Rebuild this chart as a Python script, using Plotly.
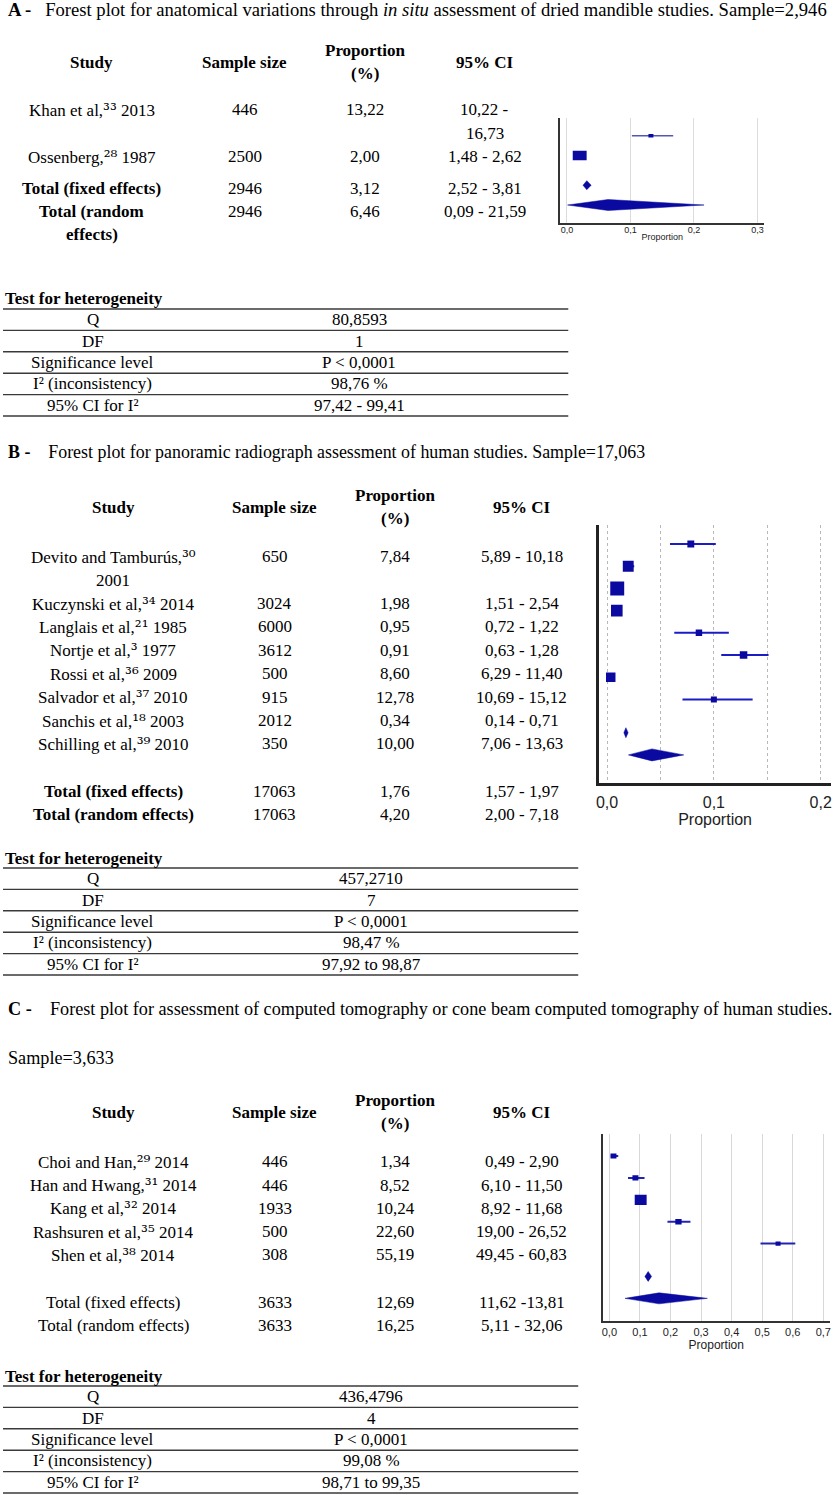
import plotly.graph_objects as go

W, H = 835, 1495
SERIF = "Liberation Serif, Times New Roman, serif"
SANS = "Liberation Sans, Arial, sans-serif"

# ---------------- data: panel A (dried mandibles, in situ) ----------------
A_STUDY = ["Khan et al", "Ossenberg"]
A_REF = [33, 28]
A_YEAR = [2013, 1987]
A_N = [446, 2500]
A_PROP = [13.22, 2.00]
A_LO = [10.22, 1.48]
A_HI = [16.73, 2.62]
A_TOT_N = [2946, 2946]
A_TOT_PROP = [3.12, 6.46]
A_TOT_LO = [2.52, 0.09]
A_TOT_HI = [3.81, 21.59]
A_Q = 80.8593
A_DF = 1
A_I2 = 98.76
A_I2_CI = [97.42, 99.41]

# ---------------- data: panel B (panoramic radiographs) ----------------
B_STUDY = ["Devito and Tamburús", "Kuczynski et al", "Langlais et al", "Nortje et al",
           "Rossi et al", "Salvador et al", "Sanchis et al", "Schilling et al"]
B_REF = [30, 34, 21, 3, 36, 37, 18, 39]
B_YEAR = [2001, 2014, 1985, 1977, 2009, 2010, 2003, 2010]
B_N = [650, 3024, 6000, 3612, 500, 915, 2012, 350]
B_PROP = [7.84, 1.98, 0.95, 0.91, 8.60, 12.78, 0.34, 10.00]
B_LO = [5.89, 1.51, 0.72, 0.63, 6.29, 10.69, 0.14, 7.06]
B_HI = [10.18, 2.54, 1.22, 1.28, 11.40, 15.12, 0.71, 13.63]
B_TOT_N = [17063, 17063]
B_TOT_PROP = [1.76, 4.20]
B_TOT_LO = [1.57, 2.00]
B_TOT_HI = [1.97, 7.18]
B_Q = 457.2710
B_DF = 7
B_I2 = 98.47
B_I2_CI = [97.92, 98.87]

# ---------------- data: panel C (CT / CBCT) ----------------
C_STUDY = ["Choi and Han", "Han and Hwang", "Kang et al", "Rashsuren et al", "Shen et al"]
C_REF = [29, 31, 32, 35, 38]
C_YEAR = [2014, 2014, 2014, 2014, 2014]
C_N = [446, 446, 1933, 500, 308]
C_PROP = [1.34, 8.52, 10.24, 22.60, 55.19]
C_LO = [0.49, 6.10, 8.92, 19.00, 49.45]
C_HI = [2.90, 11.50, 11.68, 26.52, 60.83]
C_TOT_N = [3633, 3633]
C_TOT_PROP = [12.69, 16.25]
C_TOT_LO = [11.62, 5.11]
C_TOT_HI = [13.81, 32.06]
C_Q = 436.4796
C_DF = 4
C_I2 = 99.08
C_I2_CI = [98.71, 99.35]

P_THRESHOLD = 0.0001
TOTAL_LABELS = ["Total (fixed effects)", "Total (random effects)"]
HET_LABELS = ["Q", "DF", "Significance level", "I² (inconsistency)", "95% CI for I²"]
TICKS = {"A": [0, 0.1, 0.2, 0.3], "B": [0, 0.1, 0.2], "C": [0, 0.1, 0.2, 0.3, 0.4, 0.5, 0.6, 0.7]}

# ---------------- helpers ----------------
ann, shapes = [], []
BODY = 17
SUP = str.maketrans("0123456789", "⁰¹²³⁴⁵⁶⁷⁸⁹")


def fmt(v, d=2):
    return f"{v:.{d}f}".replace(".", ",")


def sup(v):
    return f"<span style=\"font-family:'DejaVu Serif'\">{str(v).translate(SUP)}</span>"


def px(x):
    return x / W


def py(y):
    return 1 - y / H


def txt(x, y, s, size=BODY, anchor="center", family=SERIF, color="black"):
    ann.append(dict(x=px(x), y=py(y), xref="paper", yref="paper", text=s, showarrow=False,
                    xanchor=anchor, yanchor="middle", borderpad=0,
                    font=dict(family=family, size=size, color=color)))


def hline(x0, x1, y, color="#3a3a3a", width=1.4):
    shapes.append(dict(type="line", xref="paper", yref="paper", x0=px(x0), x1=px(x1),
                       y0=py(y), y1=py(y), line=dict(color=color, width=width)))


def wrap(tokens, maxc):
    lines, cur, curlen = [], [], 0
    for t, l in tokens:
        add = l + (1 if cur else 0)
        if cur and curlen + add > maxc:
            lines.append(" ".join(cur))
            cur, curlen = [t], l
        else:
            cur.append(t)
            curlen += add
    if cur:
        lines.append(" ".join(cur))
    return lines


def study_tokens(name, ref, year):
    words = name.split(" ")
    toks = [(w, len(w)) for w in words[:-1]]
    toks.append((f"{words[-1]},{sup(ref)}", len(words[-1]) + 1))
    toks.append((str(year), 4))
    return toks


def plain_tokens(s):
    return [(w, len(w)) for w in s.split(" ")]


def table(cfg, study, ref, year, n, prop, lo, hi, tn, tp, tlo, thi):
    yh = cfg["y_head"]
    txt(cfg["x_study"], yh, "<b>Study</b>")
    txt(cfg["x_n"], yh, "<b>Sample size</b>")
    txt(cfg["x_p"], yh - 11.7, "<b>Proportion</b>")
    txt(cfg["x_p"], yh + 11.7, "<b>(%)</b>")
    txt(cfg["x_ci"], yh, "<b>95% CI</b>")
    y, pitch = cfg["y_row0"], cfg["pitch"]

    def row(lab_lines, nval, pval, ci_lines):
        cells = [(cfg["x_study"], lab_lines), (cfg["x_n"], [nval]), (cfg["x_p"], [pval]),
                 (cfg["x_ci"], ci_lines)]
        for x, lines in cells:
            for k, l in enumerate(lines):
                txt(x, y + k * pitch, l)
        return max(len(c[1]) for c in cells)

    for i in range(len(study)):
        labs = wrap(study_tokens(study[i], ref[i], year[i]), cfg["wrap_study"])
        cis = wrap(plain_tokens(f"{fmt(lo[i])} - {fmt(hi[i])}"), cfg["wrap_ci"])
        y += row(labs, str(n[i]), fmt(prop[i]), cis) * pitch
    y += cfg["tot_gap"]
    for j in range(2):
        labs = wrap(plain_tokens(TOTAL_LABELS[j]), cfg["wrap_study"])
        if cfg["tot_bold"]:
            labs = [f"<b>{l}</b>" for l in labs]
        cis = wrap(plain_tokens(f"{fmt(tlo[j])}{cfg['tot_sep'][j]}{fmt(thi[j])}"), cfg["wrap_ci"])
        y += row(labs, str(tn[j]), fmt(tp[j]), cis) * pitch


def het(cfg, q, df, i2, i2ci):
    T = cfg["y_title"]
    txt(1, T, "<b>Test for heterogeneity</b>", anchor="left")
    top, pitch = T + 10, 21.4
    vals = [fmt(q, 4), str(df), f"P &lt; {fmt(P_THRESHOLD, 4)}", f"{fmt(i2)} %",
            f"{fmt(i2ci[0])}{cfg['ci_join']}{fmt(i2ci[1])}"]
    for i in range(5):
        yc = top + (i + 0.5) * pitch
        txt(cfg["x_l"], yc, HET_LABELS[i])
        txt(cfg["x_r"], yc, vals[i])
    for i in range(6):
        hline(0, cfg["x_end"], top + i * pitch)


fig = go.Figure()


def forest(k, key, cfg, prop, lo, hi, n, tp, tlo, thi):
    xa, ya = ("x", "y") if k == 1 else (f"x{k}", f"y{k}")
    xl, yl = ("xaxis", "yaxis") if k == 1 else (f"xaxis{k}", f"yaxis{k}")
    m = len(prop)
    rows = list(range(m))
    trows = [m + 0.5, m + 1.5]
    ppu, rp = cfg["ppu"], cfg["row_px"]
    # CI lines
    cx, cy = [], []
    for i in rows:
        cx += [lo[i] / 100, hi[i] / 100, None]
        cy += [i, i, None]
    fig.add_trace(go.Scatter(x=cx, y=cy, xaxis=xa, yaxis=ya, mode="lines",
                             line=dict(color=cfg["ci_color"], width=cfg["ci_width"]),
                             hoverinfo="skip", showlegend=False))
    # weighted boxes
    bx, by = [], []
    for i in rows:
        w = cfg["box_a"] + cfg["box_b"] * n[i] ** 0.5
        h = w * cfg["box_aspect"]
        hw, hh = w / 2 / ppu, h / 2 / rp
        e = prop[i] / 100
        bx += [e - hw, e + hw, e + hw, e - hw, e - hw, None]
        by += [i - hh, i - hh, i + hh, i + hh, i - hh, None]
    fig.add_trace(go.Scatter(x=bx, y=by, xaxis=xa, yaxis=ya, mode="lines", fill="toself",
                             fillcolor="#0a0aa0", line=dict(width=0, color="#0a0aa0"),
                             hoverinfo="skip", showlegend=False))
    # pooled diamonds
    dx, dy = [], []
    for j, r in enumerate(trows):
        hh = cfg["dia_h"][j] / 2 / rp
        dx += [tlo[j] / 100, tp[j] / 100, thi[j] / 100, tp[j] / 100, tlo[j] / 100, None]
        dy += [r, r - hh, r, r + hh, r, None]
    fig.add_trace(go.Scatter(x=dx, y=dy, xaxis=xa, yaxis=ya, mode="lines", fill="toself",
                             fillcolor="#0a0aa0", line=dict(width=0.5, color="#0a0aa0"),
                             hoverinfo="skip", showlegend=False))
    x0, x1 = cfg["dom_x"]
    y0, y1 = cfg["dom_y"]
    xr = [(x0 - cfg["zero_px"]) / ppu, (x1 - cfg["zero_px"]) / ppu]
    yr = [(y1 - cfg["row0_px"]) / rp, (y0 - cfg["row0_px"]) / rp]
    xaxis = dict(domain=[px(x0), px(x1)], range=xr, anchor=ya, showline=True,
                 linecolor=cfg["axis_color"], linewidth=cfg["axis_w"], zeroline=False,
                 tickvals=TICKS[key], tickformat=".1f", ticks="",
                 ticklabelstandoff=cfg["lab_off"],
                 tickfont=dict(family=SANS, size=cfg["tick_size"], color="#222"),
                 showgrid=True, gridcolor=cfg["grid_color"], griddash=cfg["grid_dash"], gridwidth=1,
                 title=dict(text="Proportion", standoff=cfg["title_off"],
                            font=dict(family=SANS, size=cfg["title_size"], color="#222")),
                 fixedrange=True)
    if cfg.get("minor"):
        xaxis["minor"] = dict(tickvals=cfg["minor"], showgrid=True, gridcolor=cfg["grid_color"],
                              griddash=cfg["grid_dash"], ticks="")
    yaxis = dict(domain=[py(y1), py(y0)], range=yr, anchor=xa, showline=True,
                 linecolor=cfg["axis_color"], linewidth=cfg["axis_w"], showticklabels=False,
                 showgrid=False, zeroline=False, ticks="", fixedrange=True)
    fig.update_layout({xl: xaxis, yl: yaxis})


# ---------------- panel A ----------------
txt(4, 10, "<b>A -</b>\u00a0\u00a0\u00a0Forest plot for anatomical variations through <i>in situ</i> "
    f"assessment of dried mandible studies. Sample={A_TOT_N[0]:,}", size=18.6, anchor="left")
table(dict(y_head=62, x_study=89, x_n=243, x_p=364, x_ci=484, y_row0=110, pitch=23.3,
           wrap_study=21, wrap_ci=12, tot_gap=8.3, tot_bold=True, tot_sep=[" - ", " - "]),
      A_STUDY, A_REF, A_YEAR, A_N, A_PROP, A_LO, A_HI, A_TOT_N, A_TOT_PROP, A_TOT_LO, A_TOT_HI)
forest(1, "A", dict(dom_x=(560, 765), dom_y=(118, 223), zero_px=566.7, ppu=638, row0_px=135.7,
                    row_px=19.8, ci_color="#5656b8", ci_width=1.5, box_a=-1.57, box_b=0.311,
                    box_aspect=0.68, dia_h=[9, 11], axis_color="#333", axis_w=2,
                    grid_color="#dcdcdc", grid_dash="solid", tick_size=9, title_size=9,
                    lab_off=-3, title_off=0),
       A_PROP, A_LO, A_HI, A_N, A_TOT_PROP, A_TOT_LO, A_TOT_HI)
het(dict(y_title=299, x_l=90, x_r=358, x_end=568, ci_join=" - "), A_Q, A_DF, A_I2, A_I2_CI)

# ---------------- panel B ----------------
txt(4, 452, "<b>B -</b>\u00a0\u00a0\u00a0\u00a0Forest plot for panoramic radiograph assessment of human "
    f"studies. Sample={B_TOT_N[0]:,}", size=17.9, anchor="left")
table(dict(y_head=507, x_study=111, x_n=273, x_p=394, x_ci=521, y_row0=556.7, pitch=23.4,
           wrap_study=24, wrap_ci=20, tot_gap=24.3, tot_bold=True, tot_sep=[" - ", " - "]),
      B_STUDY, B_REF, B_YEAR, B_N, B_PROP, B_LO, B_HI, B_TOT_N, B_TOT_PROP, B_TOT_LO, B_TOT_HI)
forest(2, "B", dict(dom_x=(599, 832), dom_y=(525, 783), zero_px=607, ppu=1073, row0_px=544,
                    row_px=22.2, ci_color="#1c1cc4", ci_width=2, box_a=3.46, box_b=0.136,
                    box_aspect=1.0, dia_h=[10, 12], axis_color="#222", axis_w=2.5,
                    grid_color="#b8b8b8", grid_dash="dot", tick_size=16, title_size=16,
                    lab_off=3, title_off=1, minor=[0.05, 0.15]),
       B_PROP, B_LO, B_HI, B_N, B_TOT_PROP, B_TOT_LO, B_TOT_HI)
het(dict(y_title=858, x_l=90, x_r=370, x_end=578, ci_join=" to "), B_Q, B_DF, B_I2, B_I2_CI)

# ---------------- panel C ----------------
txt(4, 1009, "<b>C -</b>\u00a0\u00a0\u00a0\u00a0Forest plot for assessment of computed tomography or cone "
    "beam computed tomography of human studies.", size=18.2, anchor="left")
txt(4, 1058, f"Sample={C_TOT_N[0]:,}", size=18.2, anchor="left")
table(dict(y_head=1112, x_study=111, x_n=273, x_p=394, x_ci=521, y_row0=1161.7, pitch=23.3,
           wrap_study=24, wrap_ci=20, tot_gap=24.4, tot_bold=False, tot_sep=[" -", " - "]),
      C_STUDY, C_REF, C_YEAR, C_N, C_PROP, C_LO, C_HI, C_TOT_N, C_TOT_PROP, C_TOT_LO, C_TOT_HI)
forest(3, "C", dict(dom_x=(602.7, 830.7), dom_y=(1134, 1320.7), zero_px=609.3, ppu=307.1,
                    row0_px=1156, row_px=21.9, ci_color="#2424b4", ci_width=2, box_a=0.47,
                    box_b=0.262, box_aspect=0.85, dia_h=[10, 11], axis_color="#333", axis_w=2,
                    grid_color="#d8d8d8", grid_dash="solid", tick_size=11, title_size=12,
                    lab_off=0, title_off=4),
       C_PROP, C_LO, C_HI, C_N, C_TOT_PROP, C_TOT_LO, C_TOT_HI)
het(dict(y_title=1376, x_l=90, x_r=370, x_end=578, ci_join=" to "), C_Q, C_DF, C_I2, C_I2_CI)

fig.update_layout(width=W, height=H, autosize=False, margin=dict(l=0, r=0, t=0, b=0, pad=0),
                  paper_bgcolor="white", plot_bgcolor="white", showlegend=False,
                  separators=", ", annotations=ann, shapes=shapes)
fig.write_html("out.html", config={"displayModeBar": False},
               post_script="document.body.style.margin='0px';document.body.style.padding='0px';")
